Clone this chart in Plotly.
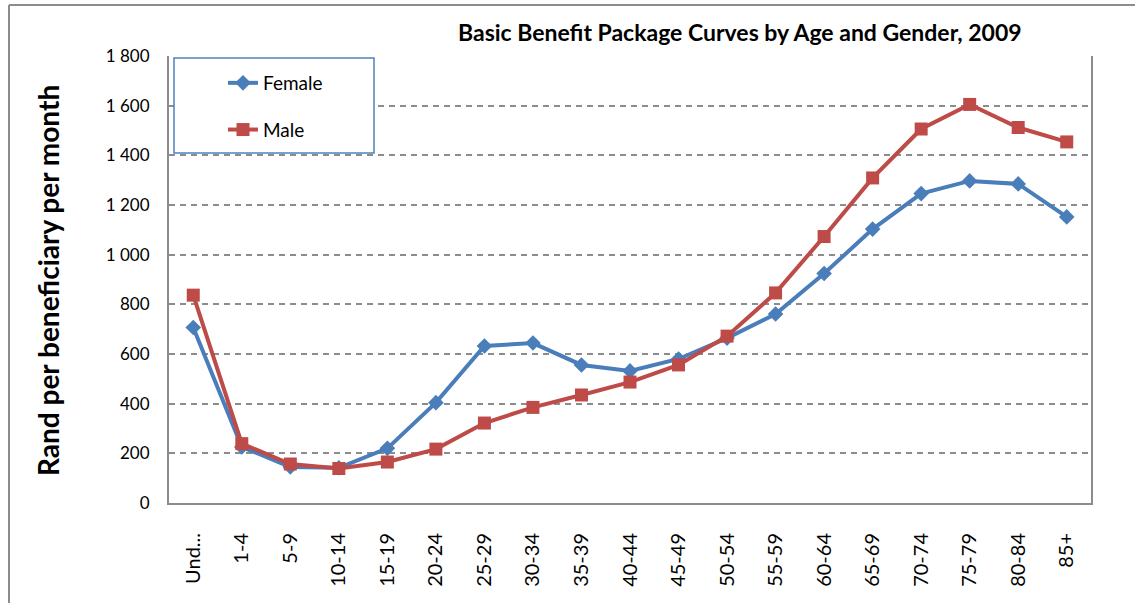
import plotly.graph_objects as go

categories = ["Und...", "1-4", "5-9", "10-14", "15-19", "20-24", "25-29", "30-34", "35-39",
              "40-44", "45-49", "50-54", "55-59", "60-64", "65-69", "70-74", "75-79", "80-84", "85+"]
female = [707, 226, 145, 142, 220, 404, 632, 644, 556, 532, 580, 664, 761, 924, 1103, 1246, 1297, 1285, 1152]
male = [837, 239, 157, 139, 165, 217, 322, 385, 435, 487, 556, 672, 846, 1073, 1309, 1506, 1605, 1512, 1454]
y_ticks = [0, 200, 400, 600, 800, 1000, 1200, 1400, 1600, 1800]
y_ticktext = ["0", "200", "400", "600", "800", "1 000", "1 200", "1 400", "1 600", "1 800"]

W, H = 1135, 603
L, R, T, B = 169, 1091, 56, 503


def px(x):
    return (x - L) / (R - L)


def py(y):
    return (B - y) / (B - T)


FONT = "Lato, 'Open Sans', sans-serif"
BLUE = "#4A7EBB"
RED = "#BE4B48"
GRAY = "#8C8C8C"

fig = go.Figure()
fig.add_trace(go.Scatter(x=categories, y=female, name="Female", mode="lines+markers",
                         line=dict(color=BLUE, width=4),
                         marker=dict(symbol="diamond", size=12, color=BLUE),
                         legendgroup="f"))
fig.add_trace(go.Scatter(x=categories, y=male, name="Male", mode="lines+markers",
                         line=dict(color=RED, width=4),
                         marker=dict(symbol="square", size=13, color=RED),
                         legendgroup="m"))

shapes = [
    # outer chart border (left and top)
    dict(type="line", xref="paper", yref="paper", x0=px(9), x1=px(9), y0=py(5), y1=py(603),
         line=dict(color=GRAY, width=2)),
    dict(type="line", xref="paper", yref="paper", x0=px(9), x1=px(1135), y0=py(5), y1=py(5),
         line=dict(color=GRAY, width=2)),
    # legend box
    dict(type="rect", xref="paper", yref="paper", x0=px(174), x1=px(374), y0=py(153), y1=py(58),
         line=dict(color="#4F81BD", width=1.5), fillcolor="white", layer="above"),
]

annotations = [
    dict(text="<b>Basic Benefit Package Curves by Age and Gender, 2009</b>", xref="paper", yref="paper",
         x=px(740), y=py(32), showarrow=False, font=dict(family=FONT, size=23, color="black"),
         xanchor="center", yanchor="middle"),
    dict(text="<b>Rand per beneficiary per month</b>", xref="paper", yref="paper",
         x=px(48), y=py(281), showarrow=False, textangle=-90,
         font=dict(family=FONT, size=28, color="black"), xanchor="center", yanchor="middle"),
]

fig.update_layout(
    width=W, height=H,
    margin=dict(l=L, r=W - R, t=T, b=H - B),
    paper_bgcolor="white", plot_bgcolor="white",
    font=dict(family=FONT, color="black"),
    showlegend=True,
    legend=dict(x=px(223), y=py(64), xanchor="left", yanchor="top",
                bgcolor="rgba(0,0,0,0)", borderwidth=0,
                font=dict(family=FONT, size=19, color="black"),
                tracegroupgap=19, traceorder="grouped"),
    shapes=shapes,
    annotations=annotations,
    xaxis=dict(type="category", range=[-0.5, len(categories) - 0.5],
               showgrid=False, showline=True, linecolor=GRAY, linewidth=2,
               tickangle=-90, tickfont=dict(family=FONT, size=20, color="black"),
               ticks="", ticklabelstandoff=20, zeroline=False),
    yaxis=dict(range=[0, 1800], tickvals=y_ticks, ticktext=y_ticktext,
               showgrid=True, gridcolor=GRAY, griddash="6px,5px", gridwidth=1.5,
               showline=True, linecolor=GRAY, linewidth=2, mirror=True,
               ticks="", tickfont=dict(family=FONT, size=17, color="black"),
               ticklabelstandoff=14, zeroline=False),
)

fig.write_html("out.html", config={"displayModeBar": False},
               post_script="document.body.style.margin='0';document.body.style.overflow='hidden';")
